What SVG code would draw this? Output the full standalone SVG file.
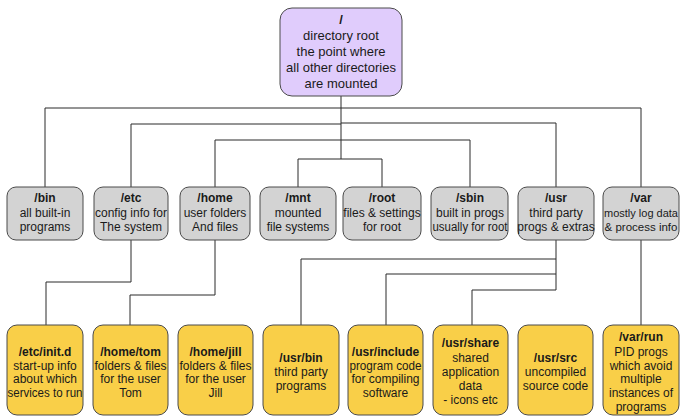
<svg xmlns="http://www.w3.org/2000/svg" width="681" height="418" viewBox="0 0 681 418">
<style>
text{font-family:"Liberation Sans",Arial,sans-serif;font-size:12px;fill:#1a1a1a;text-anchor:middle}
.t{font-weight:bold}
.r text{font-size:13px}
.box{stroke:#4a4a4a;stroke-width:1}
.root{fill:#E0CCFC}
.mid{fill:#D3D3D3}
.leaf{fill:#F9CF48}
.c{fill:none;stroke:#2a2a2a;stroke-width:1}
</style>
<rect width="681" height="418" fill="#fff"/>
<g id="connectors">
<path class="c" d="M341,96V159"/>
<path class="c" d="M45,187V108H641V187"/>
<path class="c" d="M131,187V124H341"/>
<path class="c" d="M341,123H556V187"/>
<path class="c" d="M215,187V140H470V187"/>
<path class="c" d="M298,187V159H382V187"/>
<path class="c" d="M131,240V282H46V325"/>
<path class="c" d="M215,240V295H130V325"/>
<path class="c" d="M556,240V290H472V325"/>
<path class="c" d="M556,259H301V325"/>
<path class="c" d="M556,274H386V325"/>
<path class="c" d="M641,240V325"/>
</g>
<g id="root" class="r">
<rect class="box root" x="280" y="8" width="122" height="88" rx="12"/>
<text x="341" y="24" class="t">/</text>
<text x="341" y="40">directory root</text>
<text x="341" y="56">the point where</text>
<text x="341" y="72">all other directories</text>
<text x="341" y="88">are mounted</text>
</g>
<g id="bin">
<rect class="box mid" x="7" y="187" width="76" height="53" rx="9"/>
<text x="45" y="202" class="t">/bin</text>
<text x="45" y="216.5">all built-in</text>
<text x="45" y="231">programs</text>
</g>
<g id="etc">
<rect class="box mid" x="94" y="187" width="74" height="53" rx="9"/>
<text x="131" y="202" class="t">/etc</text>
<text x="131" y="216.5">config info for</text>
<text x="131" y="231">The system</text>
</g>
<g id="home">
<rect class="box mid" x="180" y="187" width="70" height="53" rx="9"/>
<text x="215" y="202" class="t">/home</text>
<text x="215" y="216.5">user folders</text>
<text x="215" y="231">And files</text>
</g>
<g id="mnt">
<rect class="box mid" x="260" y="187" width="76" height="53" rx="9"/>
<text x="298" y="202" class="t">/mnt</text>
<text x="298" y="216.5">mounted</text>
<text x="298" y="231">file systems</text>
</g>
<g id="rootdir">
<rect class="box mid" x="343" y="187" width="78" height="53" rx="9"/>
<text x="382" y="202" class="t">/root</text>
<text x="382" y="216.5">files &amp; settings</text>
<text x="382" y="231">for root</text>
</g>
<g id="sbin">
<rect class="box mid" x="431" y="187" width="77" height="53" rx="9"/>
<text x="470" y="202" class="t">/sbin</text>
<text x="470" y="216.5">built in progs</text>
<text x="470" y="231" textLength="75" lengthAdjust="spacingAndGlyphs">usually for root</text>
</g>
<g id="usr">
<rect class="box mid" x="518" y="187" width="76" height="53" rx="9"/>
<text x="556" y="202" class="t">/usr</text>
<text x="556" y="216.5">third party</text>
<text x="556" y="231">progs &amp; extras</text>
</g>
<g id="var">
<rect class="box mid" x="603" y="187" width="76" height="53" rx="9"/>
<text x="641" y="202" class="t">/var</text>
<text x="641" y="216.5" style="font-size:11px">mostly log data</text>
<text x="641" y="231" style="font-size:11.5px">&amp; process info</text>
</g>
<g id="etc-init.d">
<rect class="box leaf" x="7" y="325" width="76" height="90" rx="10"/>
<text x="45" y="356" class="t">/etc/init.d</text>
<text x="45" y="369.5">start-up info</text>
<text x="45" y="383">about which</text>
<text x="45" y="396.5" textLength="75" lengthAdjust="spacingAndGlyphs">services to run</text>
</g>
<g id="home-tom">
<rect class="box leaf" x="93" y="325" width="75" height="90" rx="10"/>
<text x="130.5" y="356" class="t">/home/tom</text>
<text x="130.5" y="369.5" textLength="72" lengthAdjust="spacingAndGlyphs">folders &amp; files</text>
<text x="130.5" y="383">for the user</text>
<text x="130.5" y="396.5">Tom</text>
</g>
<g id="home-jill">
<rect class="box leaf" x="178" y="325" width="75" height="90" rx="10"/>
<text x="215.5" y="356" class="t">/home/jill</text>
<text x="215.5" y="369.5" textLength="72" lengthAdjust="spacingAndGlyphs">folders &amp; files</text>
<text x="215.5" y="383">for the user</text>
<text x="215.5" y="396.5">Jill</text>
</g>
<g id="usr-bin">
<rect class="box leaf" x="263" y="325" width="76" height="90" rx="10"/>
<text x="301" y="362" class="t">/usr/bin</text>
<text x="301" y="376">third party</text>
<text x="301" y="390">programs</text>
</g>
<g id="usr-include">
<rect class="box leaf" x="348" y="325" width="75" height="90" rx="10"/>
<text x="385.5" y="356" class="t">/usr/include</text>
<text x="385.5" y="369.5" textLength="72" lengthAdjust="spacingAndGlyphs">program code</text>
<text x="385.5" y="383">for compiling</text>
<text x="385.5" y="396.5">software</text>
</g>
<g id="usr-share">
<rect class="box leaf" x="433" y="325" width="75" height="90" rx="10"/>
<text x="470.5" y="347" class="t">/usr/share</text>
<text x="470.5" y="361.5">shared</text>
<text x="470.5" y="375.5">application</text>
<text x="470.5" y="390">data</text>
<text x="470.5" y="404">- icons etc</text>
</g>
<g id="usr-src">
<rect class="box leaf" x="518" y="325" width="75" height="90" rx="10"/>
<text x="555.5" y="362" class="t">/usr/src</text>
<text x="555.5" y="376">uncompiled</text>
<text x="555.5" y="390">source code</text>
</g>
<g id="var-run">
<rect class="box leaf" x="603" y="325" width="76" height="90" rx="10"/>
<text x="641" y="341" class="t">/var/run</text>
<text x="641" y="355.5">PID progs</text>
<text x="641" y="369.5">which avoid</text>
<text x="641" y="383">multiple</text>
<text x="641" y="396.5">instances of</text>
<text x="641" y="410.5">programs</text>
</g>
</svg>
